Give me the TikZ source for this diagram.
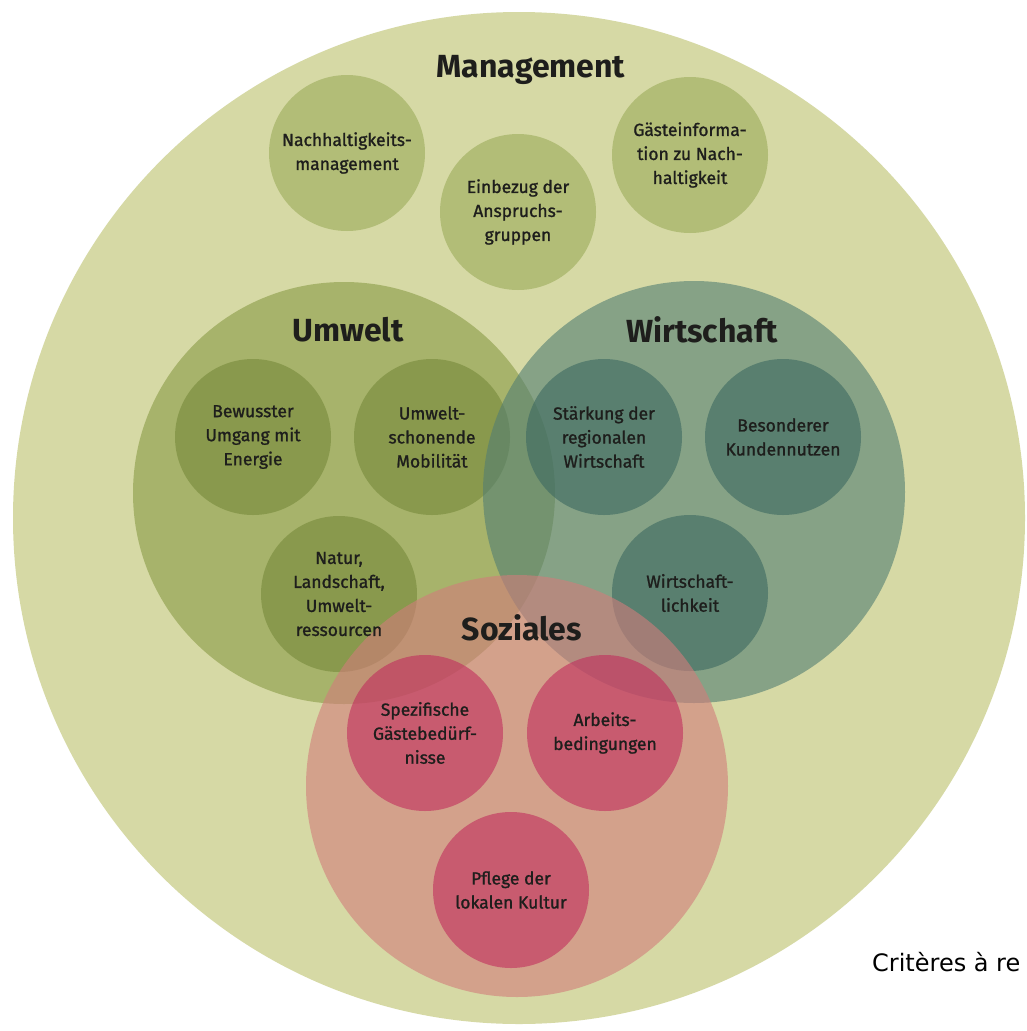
\documentclass[tikz,border=0pt]{standalone}
\usepackage{fontspec}
\setmainfont{Fira Sans}
\newfontfamily\lblfont{Fira Sans}[FakeBold=1.2]
\newfontfamily\notefont{DejaVu Sans}
\definecolor{bgc}{RGB}{214,217,165}
\definecolor{umw}{RGB}{137,154,69}
\definecolor{umwk}{RGB}{118,137,58}
\definecolor{wir}{RGB}{82,126,114}
\definecolor{wirk}{RGB}{60,105,97}
\definecolor{soz}{RGB}{209,124,123}
\definecolor{sozk}{RGB}{193,45,93}
\definecolor{mgk}{RGB}{154,171,89}
\definecolor{ink}{RGB}{30,30,28}
\tikzset{
  field/.style={circle, minimum size=422pt, inner sep=0pt, fill opacity=.6},
  topic/.style={circle, minimum size=156pt, inner sep=0pt, fill opacity=.6},
  lbl/.style={align=center, text=ink, font=\lblfont\fontsize{17.5}{24}\selectfont},
  head/.style={text=ink, font=\fontsize{32}{36}\selectfont\bfseries}
}
\begin{document}
\begin{tikzpicture}[x=1pt, y=-1pt]
    \fill[white] (0,0) rectangle (1027,1031);
    \useasboundingbox (0,0) rectangle (1027,1031);
    \node[circle, minimum size=1012pt, inner sep=0pt, fill=bgc] (mgmt) at (519,518) {};
    % management
    \node[topic, fill=mgk] (nm) at (347,153) {};
    \node[topic, fill=mgk] (ea) at (518,212) {};
    \node[topic, fill=mgk] (gi) at (690,155) {};
    % umwelt
    \node[field, fill=umw] (umwelt) at (344,493) {};
    \node[topic, fill=umwk] (be) at (253,437) {};
    \node[topic, fill=umwk] (um) at (432,437) {};
    \node[topic, fill=umwk] (nl) at (339,594) {};
    % wirtschaft
    \node[field, fill=wir] (wirtschaft) at (694,492) {};
    \node[topic, fill=wirk] (sr) at (604,437) {};
    \node[topic, fill=wirk] (bk) at (783,437) {};
    \node[topic, fill=wirk] (wl) at (690,593) {};
    % soziales
    \node[field, fill=soz] (soziales) at (517,786) {};
    \node[topic, fill=sozk] (sg) at (425,733) {};
    \node[topic, fill=sozk] (ab) at (605,733) {};
    \node[topic, fill=sozk] (pk) at (511,890) {};
    % texts
    \node[head] at (531,70) {Management};
    \node[head] at (348,330) {Umwelt};
    \node[head] at (702,330) {Wirtschaft};
    \node[head] at (522,628) {Soziales};
    \foreach \n/\t in {nm/{Nachhaltigkeits-\\management},
                       ea/{Einbezug der\\Anspruchs-\\gruppen},
                       gi/{Gästeinforma-\\tion zu Nach-\\haltigkeit},
                       be/{Bewusster\\Umgang mit\\Energie},
                       um/{Umwelt-\\schonende\\Mobilität},
                       nl/{Natur,\\Landschaft,\\Umwelt-\\ressourcen},
                       sr/{Stärkung der\\regionalen\\Wirtschaft},
                       bk/{Besonderer\\Kundennutzen},
                       wl/{Wirtschaft-\\lichkeit},
                       sg/{Spezifische\\Gästebedürf-\\nisse},
                       ab/{Arbeits-\\bedingungen},
                       pk/{Pflege der\\lokalen Kultur}}
      \node[lbl] at (\n) {\t};
    \node[anchor=base west, inner sep=0pt, font=\notefont\fontsize{24}{28}\selectfont] (note) at (872,971) {Critères à re};
\end{tikzpicture}
\end{document}
